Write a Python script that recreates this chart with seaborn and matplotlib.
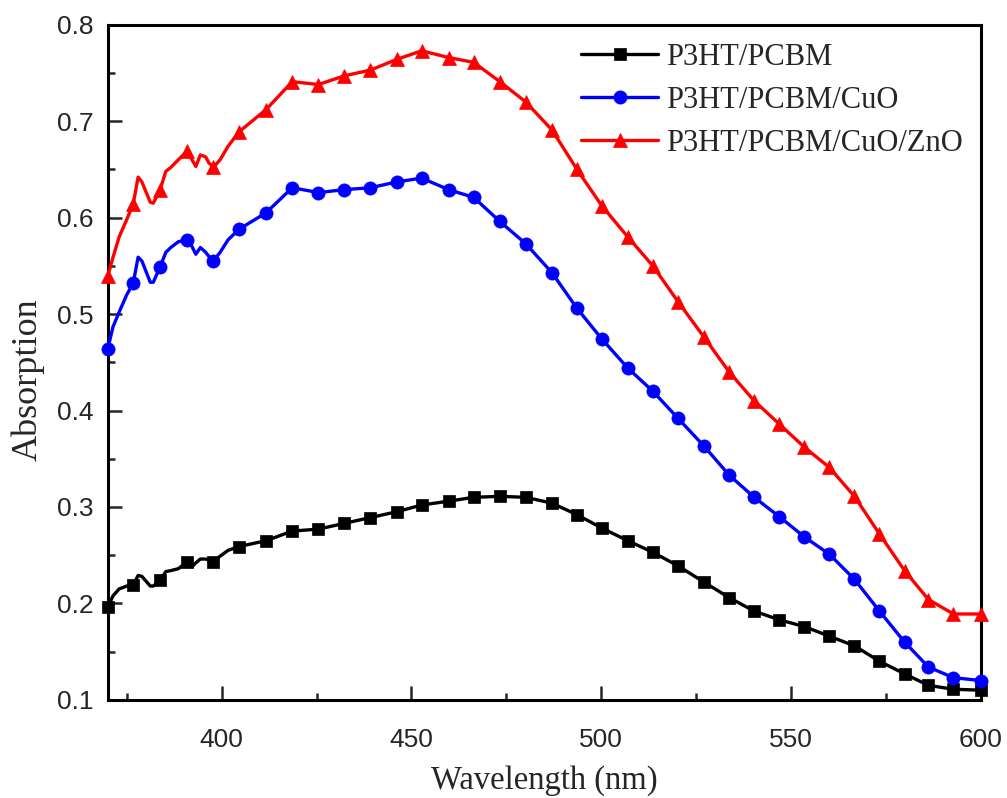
import numpy as np
import pandas as pd
import matplotlib
matplotlib.use("Agg")
import matplotlib.pyplot as plt
import seaborn as sns
from matplotlib.ticker import MultipleLocator

# wavelengths (nm) where the symbols sit
wl_marker = [370.0, 376.7, 383.8, 390.9, 397.8, 404.6, 411.7, 418.6, 425.5, 432.3,
             439.2, 446.1, 452.7, 459.8, 466.4, 473.3, 480.1, 487.0, 493.6, 500.2,
             507.0, 513.6, 520.2, 527.1, 533.7, 540.3, 546.9, 553.5, 560.1, 566.7,
             573.3, 579.9, 586.2, 592.8, 600.0]
# extra wavelengths for the noisy start of the spectra
wl_detail = [371.4, 373.0, 375.0, 378.0, 379.0, 381.2, 382.0, 385.3, 386.6, 388.6,
             392.2, 393.2, 394.4, 395.8, 396.6, 399.6, 401.7]

pcbm_marker = [0.196, 0.219, 0.224, 0.243, 0.243, 0.259, 0.265, 0.275, 0.277, 0.283,
               0.289, 0.295, 0.302, 0.306, 0.310, 0.311, 0.310, 0.304, 0.292, 0.278,
               0.265, 0.253, 0.239, 0.222, 0.206, 0.192, 0.183, 0.176, 0.166, 0.156,
               0.140, 0.127, 0.115, 0.111, 0.110]
pcbm_detail = [0.208, 0.215, 0.218, 0.229, 0.228, 0.218, 0.218, 0.233, 0.234, 0.236,
               0.238, 0.242, 0.246, 0.246, 0.245, 0.249, 0.255]

cuo_marker = [0.464, 0.532, 0.549, 0.577, 0.555, 0.588, 0.605, 0.631, 0.626, 0.629,
              0.631, 0.637, 0.641, 0.629, 0.621, 0.596, 0.573, 0.543, 0.506, 0.474,
              0.444, 0.420, 0.392, 0.363, 0.333, 0.310, 0.290, 0.269, 0.251, 0.225,
              0.192, 0.160, 0.134, 0.123, 0.120]
cuo_detail = [0.487, 0.502, 0.520, 0.559, 0.555, 0.533, 0.533, 0.564, 0.569, 0.575,
              0.570, 0.562, 0.569, 0.564, 0.560, 0.564, 0.577]

zno_marker = [0.539, 0.614, 0.629, 0.669, 0.652, 0.689, 0.712, 0.741, 0.738, 0.747,
              0.753, 0.764, 0.773, 0.766, 0.761, 0.741, 0.720, 0.691, 0.650, 0.612,
              0.580, 0.550, 0.513, 0.476, 0.440, 0.410, 0.386, 0.362, 0.341, 0.311,
              0.272, 0.234, 0.204, 0.189, 0.189]
zno_detail = [0.559, 0.580, 0.598, 0.642, 0.637, 0.616, 0.615, 0.648, 0.652, 0.660,
              0.660, 0.653, 0.665, 0.663, 0.657, 0.660, 0.674]

labels = ["P3HT/PCBM", "P3HT/PCBM/CuO", "P3HT/PCBM/CuO/ZnO"]
colors = ["black", "#0000ff", "#ff0000"]
markers = ["s", "o", "^"]
msizes = [8.5, 9.5, 10.5]


def build(marker_vals, detail_vals):
    df = pd.DataFrame({
        "wl": wl_marker + wl_detail,
        "abs": marker_vals + detail_vals,
        "is_marker": [True] * len(wl_marker) + [False] * len(wl_detail),
    })
    return df.sort_values("wl").reset_index(drop=True)


series = [build(pcbm_marker, pcbm_detail),
          build(cuo_marker, cuo_detail),
          build(zno_marker, zno_detail)]

sns.set_style("white")
fig = plt.figure(figsize=(10.07, 7.98), dpi=100)
ax = fig.add_axes([0.107, 0.123, 0.867, 0.846])

for df, lab, c, m, ms in zip(series, labels, colors, markers, msizes):
    sns.lineplot(data=df, x="wl", y="abs", ax=ax, color=c, label=lab,
                 estimator=None, sort=True, linewidth=2.4,
                 marker=m, markersize=ms, markevery=list(df["is_marker"]),
                 markeredgecolor=c, markerfacecolor=c, markeredgewidth=0.5,
                 clip_on=False, zorder=3)

ax.set_xlim(370, 600)
ax.set_ylim(0.1, 0.8)
ax.xaxis.set_major_locator(MultipleLocator(50))
ax.xaxis.set_minor_locator(MultipleLocator(25))
ax.yaxis.set_major_locator(MultipleLocator(0.1))
ax.yaxis.set_minor_locator(MultipleLocator(0.05))
ax.set_xticks([400, 450, 500, 550, 600])
ax.set_xticklabels(["400", "450", "500", "550", "600"])
ax.set_yticks(np.arange(1, 9) / 10)
ax.set_yticklabels([f"{v / 10:.1f}" for v in range(1, 9)])

ax.tick_params(which="major", direction="in", length=10, width=1.8,
               labelsize=19, bottom=True, left=True, top=False, right=False)
ax.tick_params(axis="x", which="major", pad=20)
ax.tick_params(axis="y", which="major", pad=10)
ax.tick_params(which="minor", direction="in", length=5, width=1.8,
               bottom=True, left=True, top=False, right=False)
for lbl in ax.get_xticklabels() + ax.get_yticklabels():
    lbl.set_family(["Liberation Sans", "DejaVu Sans"])

for sp in ax.spines.values():
    sp.set_linewidth(2.2)
    sp.set_color("black")

ax.set_xlabel("Wavelength (nm)", family=["Liberation Serif", "DejaVu Serif"],
              fontsize=23.5, labelpad=10)
ax.set_ylabel("Absorption", family=["Liberation Serif", "DejaVu Serif"],
              fontsize=26)
ax.yaxis.set_label_coords(-0.072, 0.474)

leg = ax.legend(loc="upper right", frameon=False, handlelength=2.5,
                handletextpad=0.26, labelspacing=0.45, borderaxespad=0.2,
                prop={"family": ["Liberation Serif", "DejaVu Serif"], "size": 22})
for h in leg.legend_handles:
    h.set_markevery([1])

fig.savefig("out.png", dpi=100)
